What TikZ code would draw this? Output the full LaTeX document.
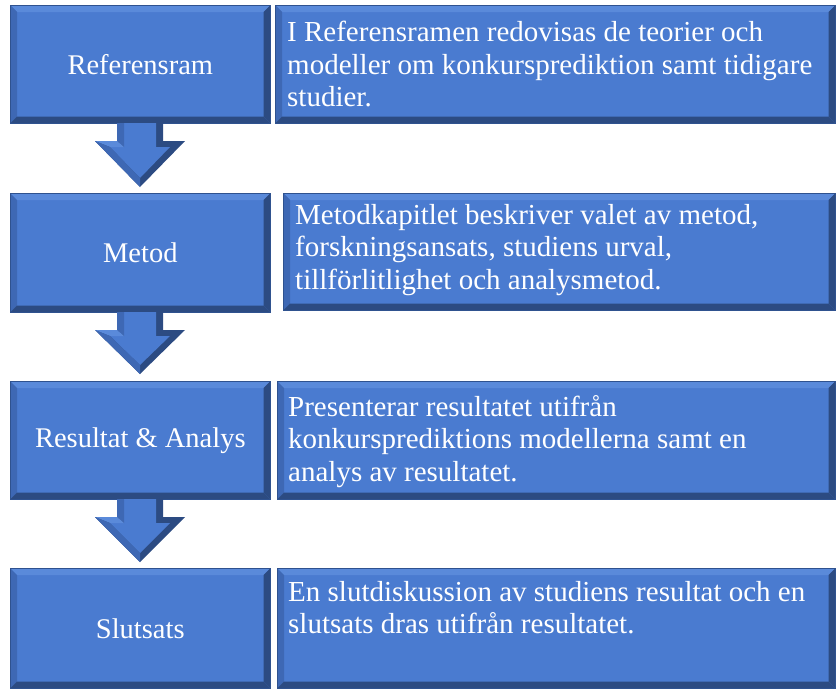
\documentclass[tikz,border=0pt]{standalone}
\usepackage{fontspec}
\setmainfont{Liberation Serif}
\usetikzlibrary{calc}
\definecolor{face}{HTML}{4A7BD0}
\definecolor{btop}{HTML}{5A8ADA}
\definecolor{bleft}{HTML}{3E68B4}
\definecolor{bdark}{HTML}{2C4B82}
\definecolor{edge}{HTML}{2F528F}
\tikzset{
  box/.style={draw=edge,line width=0.6pt,fill=face,anchor=north west,inner sep=0pt},
  lbl/.style={text=white,font=\fontsize{28.5}{32}\selectfont},
  txt/.style={text=white,font=\fontsize{29}{32.5}\selectfont,align=left,anchor=north west,inner sep=0pt},
}
\newcommand\bevel[1]{%
  \fill[btop] (#1.north west)--(#1.north east)--([shift={(-7,7)}]#1.north east)--([shift={(7,7)}]#1.north west)--cycle;
  \fill[bleft] (#1.north west)--([shift={(7,7)}]#1.north west)--([shift={(7,-7)}]#1.south west)--(#1.south west)--cycle;
  \fill[bdark] (#1.north east)--([shift={(-7,7)}]#1.north east)--([shift={(-7,-7)}]#1.south east)--(#1.south east)--cycle;
  \fill[bdark] (#1.south west)--([shift={(7,-7)}]#1.south west)--([shift={(-7,-7)}]#1.south east)--(#1.south east)--cycle;
  \draw[edge,line width=0.6pt] (#1.north west) rectangle (#1.south east);
}
\newcommand\arr[2]{% top y, tip y
  \fill[bdark] (117,#1)--(163,#1)--(163,#1+18)--(185,#1+18)--(140,#2)--(95,#1+18)--(117,#1+18)--cycle;
  \fill[face] (124,#1)--(156,#1)--(156,#1+24)--(170,#1+24)--(140,#2-9)--(110,#1+24)--(124,#1+24)--cycle;
  \fill[bleft] (117,#1)--(124,#1)--(124,#1+24)--(117,#1+18)--cycle;
  \fill[btop] (95,#1+18)--(117,#1+18)--(124,#1+24)--(110,#1+24)--cycle;
  \fill[bleft] (95,#1+18)--(110,#1+24)--(140,#2-9)--(140,#2)--cycle;
}
\begin{document}
\begin{tikzpicture}[x=1pt,y=-1pt]
\useasboundingbox (0,0) rectangle (840,696);
% row 1
\node[box,minimum width=260pt,minimum height=118pt] (l1) at (10,5) {};
\node[box,minimum width=560pt,minimum height=118pt] (r1) at (275,5) {};
\bevel{l1}\bevel{r1}
\node[lbl] (t1) at (l1.center) {Referensram};
\node[txt] (d1) at ([shift={(12,16)}]r1.north west) {I Referensramen redovisas de teorier och\\modeller om konkursprediktion samt tidigare\\studier.};
\arr{123}{187}
% row 2
\node[box,minimum width=260pt,minimum height=119pt] (l2) at (10,193) {};
\node[box,minimum width=552pt,minimum height=117pt] (r2) at (283,193) {};
\bevel{l2}\bevel{r2}
\node[lbl] (t2) at (l2.center) {Metod};
\node[txt] (d2) at ([shift={(12,11)}]r2.north west) {Metodkapitlet beskriver valet av metod,\\forskningsansats, studiens urval,\\tillförlitlighet och analysmetod.};
\arr{312}{374}
% row 3
\node[box,minimum width=260pt,minimum height=118pt] (l3) at (10,381) {};
\node[box,minimum width=558pt,minimum height=118pt] (r3) at (277,381) {};
\bevel{l3}\bevel{r3}
\node[lbl] (t3) at (l3.center) {Resultat \& Analys};
\node[txt] (d3) at ([shift={(11,14)}]r3.north west) {Presenterar resultatet utifrån\\konkursprediktions modellerna samt en\\analys av resultatet.};
\arr{499}{562}
% row 4
\node[box,minimum width=260pt,minimum height=120pt] (l4) at (10,568) {};
\node[box,minimum width=558pt,minimum height=120pt] (r4) at (277,568) {};
\bevel{l4}\bevel{r4}
\node[lbl] (t4) at (l4.center) {Slutsats};
\node[txt] (d4) at ([shift={(11,13)}]r4.north west) {En slutdiskussion av studiens resultat och en\\slutsats dras utifrån resultatet.};
\end{tikzpicture}
\end{document}
